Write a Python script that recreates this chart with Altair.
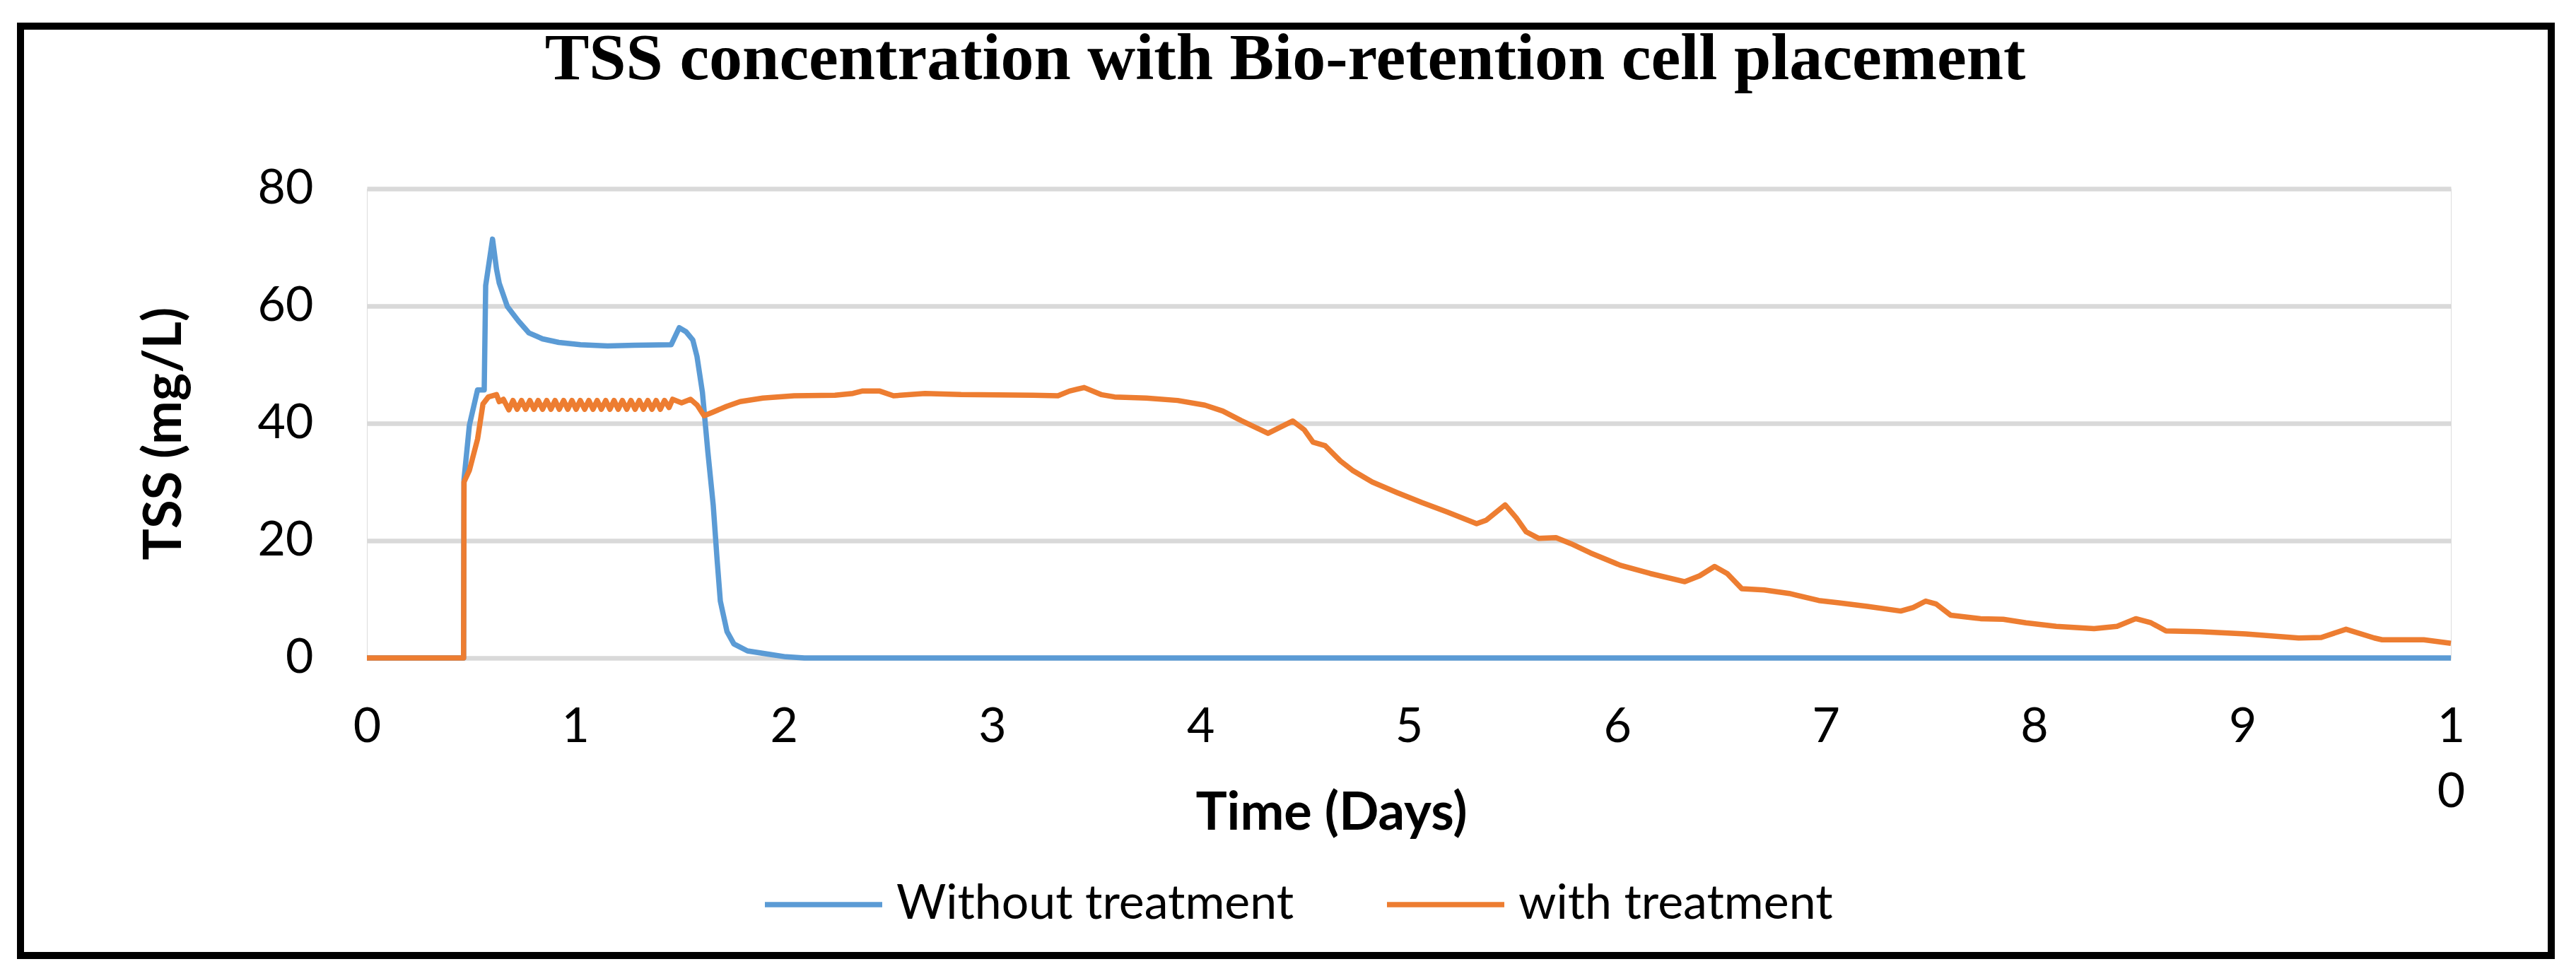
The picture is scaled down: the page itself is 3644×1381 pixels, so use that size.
import altair as alt
import pandas as pd

# ---- data ----
series_names = ["Without treatment", "with treatment"]
series_colors = ["#5B9BD5", "#ED7D31"]

blue_t = [0, 0.464, 0.466, 0.492, 0.531, 0.563, 0.570, 0.603, 0.622, 0.635, 0.674,
          0.726, 0.778, 0.843, 0.921, 1.025, 1.155, 1.285, 1.460, 1.499, 1.532,
          1.564, 1.584, 1.610, 1.636, 1.662, 1.680, 1.696, 1.728, 1.761, 1.826,
          1.935, 2.010, 2.100, 10.0]
blue_v = [0, 0, 30.4, 39.7, 45.7, 45.7, 63.5, 71.4, 66.3, 63.9, 59.9,
          57.5, 55.4, 54.4, 53.8, 53.4, 53.2, 53.3, 53.4, 56.3, 55.6,
          54.2, 51.4, 45.3, 35.2, 26.0, 17.0, 9.7, 4.5, 2.4, 1.2,
          0.6, 0.2, 0.0, 0.0]

orange_t = [0, 0.464, 0.466, 0.492, 0.531, 0.557, 0.583, 0.622, 0.635, 0.655,
            0.681, 0.701, 0.721, 0.742, 0.762, 0.782, 0.802, 0.822, 0.843, 0.863,
            0.883, 0.903, 0.923, 0.944, 0.964, 0.984, 1.004, 1.024, 1.045, 1.065,
            1.085, 1.105, 1.125, 1.146, 1.166, 1.186, 1.206, 1.226, 1.247, 1.267,
            1.287, 1.307, 1.327, 1.348, 1.368, 1.388, 1.408, 1.428, 1.450,
            1.467, 1.510, 1.553, 1.585, 1.618, 1.660, 1.726, 1.791, 1.900, 2.050,
            2.246, 2.332, 2.376, 2.461, 2.527, 2.678, 2.851, 3.198, 3.316, 3.371,
            3.442, 3.523, 3.588, 3.740, 3.890, 4.021, 4.107, 4.194, 4.324, 4.443,
            4.498, 4.540, 4.598, 4.671, 4.729, 4.824, 4.943, 5.062, 5.182, 5.325,
            5.372, 5.462, 5.515, 5.563, 5.622, 5.706, 5.777, 5.872, 6.015, 6.158,
            6.324, 6.395, 6.467, 6.527, 6.598, 6.705, 6.825, 6.967, 7.064, 7.200,
            7.360, 7.420, 7.480, 7.530, 7.600, 7.743, 7.852, 7.961, 8.106, 8.288,
            8.398, 8.488, 8.561, 8.633, 8.797, 9.016, 9.270, 9.378, 9.497, 9.633,
            9.670, 9.870, 10.0]
orange_v = [0, 0, 30.0, 32.0, 37.3, 43.3, 44.5, 44.9, 43.7, 44.1,
            42.3, 43.9, 42.4, 43.9, 42.4, 43.9, 42.4, 43.9, 42.4, 43.9,
            42.4, 43.9, 42.4, 43.9, 42.4, 43.9, 42.4, 43.9, 42.4, 43.9,
            42.4, 43.9, 42.4, 43.9, 42.4, 43.9, 42.4, 43.9, 42.4, 43.9,
            42.4, 43.9, 42.4, 43.9, 42.4, 43.9, 42.4, 43.9, 42.7,
            44.1, 43.5, 44.1, 43.1, 41.3, 41.9, 42.9, 43.7, 44.3, 44.7,
            44.8, 45.1, 45.5, 45.5, 44.7, 45.1, 44.9, 44.8, 44.7, 45.5,
            46.1, 44.9, 44.5, 44.3, 43.9, 43.1, 42.1, 40.5, 38.3, 40.4,
            38.9, 36.8, 36.2, 33.6, 32.0, 30.0, 28.2, 26.5, 24.9, 22.9,
            23.5, 26.1, 23.9, 21.5, 20.4, 20.5, 19.5, 17.9, 15.8, 14.4,
            13.0, 14.0, 15.6, 14.4, 11.8, 11.6, 11.0, 9.8, 9.4, 8.8,
            8.0, 8.6, 9.7, 9.2, 7.3, 6.7, 6.6, 6.0, 5.4, 5.0,
            5.4, 6.7, 6.0, 4.6, 4.5, 4.1, 3.4, 3.5, 4.9, 3.4,
            3.1, 3.1, 2.5]

x_ticks = [0, 1, 2, 3, 4, 5, 6, 7, 8, 9, 10]
y_ticks = [0, 20, 40, 60, 80]

df = pd.concat([
    pd.DataFrame({"t": blue_t, "v": blue_v, "series": series_names[0]}),
    pd.DataFrame({"t": orange_t, "v": orange_v, "series": series_names[1]}),
], ignore_index=True)

W, H = 2948, 664
FONT = "Lato"

lines = alt.Chart(df).mark_line(strokeWidth=7.5, strokeJoin="round").encode(
    x=alt.X("t:Q", scale=alt.Scale(domain=[0, 10], nice=False),
            axis=alt.Axis(values=x_ticks, title="Time (Days)", grid=False,
                          domain=False, ticks=False, tickSize=0,
                          labelPadding=64, labelFontSize=68, labelFont=FONT,
                          labelColor="#000000", labelFlush=False,
                          labelExpr="datum.value == 10 ? ['1', '0'] : datum.label",
                          labelLineHeight=92,
                          titleFont=FONT, titleFontSize=74, titleFontWeight="bold",
                          titleColor="#000000", titleX=1364, titleY=242,
                          titleAlign="center", titleBaseline="alphabetic")),
    y=alt.Y("v:Q", scale=alt.Scale(domain=[0, 80], nice=False),
            axis=alt.Axis(values=y_ticks, title="TSS (mg/L)", grid=True,
                          gridColor="#D9D9D9", gridWidth=6.5,
                          domain=False, ticks=False, tickSize=0,
                          labelPadding=76, labelFontSize=68, labelFont=FONT,
                          labelColor="#000000",
                          titleFont=FONT, titleFontSize=74, titleFontWeight="bold",
                          titleColor="#000000", titleX=-286, titleY=346,
                          titleAngle=270, titleAlign="center", titleBaseline="middle")),
    color=alt.Color("series:N",
                    scale=alt.Scale(domain=series_names, range=series_colors),
                    legend=alt.Legend(title=None, orient="none", direction="horizontal",
                                      legendX=559, legendY=926,
                                      symbolType="stroke", symbolSize=27556,
                                      symbolStrokeWidth=7.5, labelFont=FONT,
                                      labelFontSize=68, labelColor="#000000",
                                      labelLimit=3000,
                                      labelOffset=16, columnPadding=116, padding=0)),
)

frame = alt.Chart(pd.DataFrame({"k": [0]})).mark_rect(
    fill=None, fillOpacity=0, stroke="#000000", strokeWidth=10
).encode(
    x=alt.value(-490), x2=alt.value(3090), y=alt.value(-230), y2=alt.value(1085)
)

chart = alt.layer(lines, frame).properties(
    width=W, height=H,
    title=alt.Title("TSS concentration with Bio-retention cell placement",
                    font="Liberation Serif", fontSize=94, fontWeight="bold",
                    color="#000000", anchor="middle", frame="group", dx=-175,
                    baseline="alphabetic", offset=-174),
    autosize=alt.AutoSizeParams(type="none"),
    padding={"left": 511, "top": 259, "right": 156, "bottom": 432},
).configure_view(stroke=None).configure(background="#FFFFFF")

chart.save("out.html", embed_options={"renderer": "svg", "actions": False})
